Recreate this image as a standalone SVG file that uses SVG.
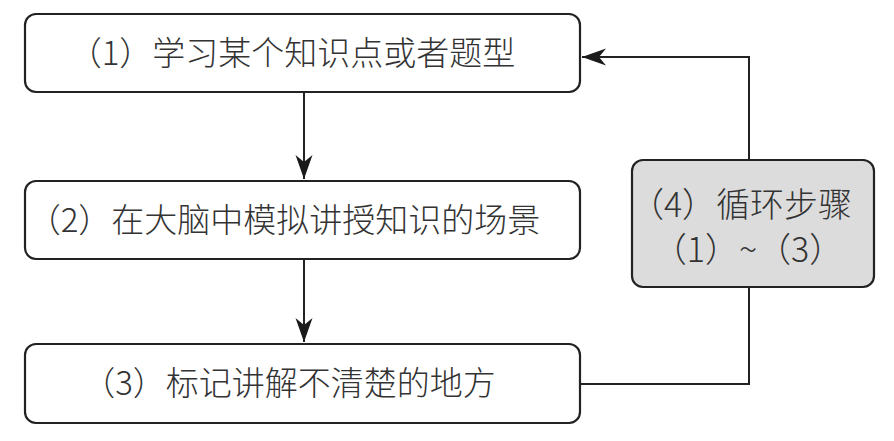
<svg xmlns="http://www.w3.org/2000/svg" width="894" height="441" viewBox="0 0 894 441">
<style>
.box{fill:#ffffff;stroke:#222222;stroke-width:2.2}
.gray{fill:#dcdcdc}
.t{font-family:"Noto Sans CJK SC","Liberation Sans",sans-serif;font-size:33px;font-weight:300;fill:#333333;text-anchor:middle}
.s{font-size:34px}
.c{fill:none;stroke:#222222;stroke-width:2}
</style>
<defs>
<marker id="ah" markerUnits="userSpaceOnUse" markerWidth="26" markerHeight="20" viewBox="-25 -10 26 20" refX="0" refY="0" orient="auto">
<path d="M0,0 L-24,-8.5 L-17,0 L-24,8.5 Z" fill="#1a1a1a"/>
</marker>
</defs>
<rect width="894" height="441" fill="#ffffff"/>
<g id="connectors">
<path class="c" d="M304,93 L304,179" marker-end="url(#ah)"/>
<path class="c" d="M304,260 L304,342" marker-end="url(#ah)"/>
<path class="c" d="M581,384 L749,384 L749,287"/>
<path class="c" d="M749,160 L749,57 L582,57" marker-end="url(#ah)"/>
</g>
<g id="node1">
<rect class="box" x="25" y="14" width="555" height="78" rx="11"/>
<text class="t" x="292" y="65">（1）学习某个知识点或者题型</text>
</g>
<g id="node2">
<rect class="box" x="25" y="181" width="555" height="78" rx="11"/>
<text class="t" x="284" y="232">（2）在大脑中模拟讲授知识的场景</text>
</g>
<g id="node3">
<rect class="box" x="25" y="344" width="555" height="79" rx="11"/>
<text class="t" x="289" y="395">（3）标记讲解不清楚的地方</text>
</g>
<g id="node4">
<rect class="box gray" x="632" y="160" width="242" height="127" rx="11"/>
<text class="t s" x="741" y="217">（4）循环步骤</text>
<text class="t s" x="748" y="262">（1）~（3）</text>
</g>
</svg>
